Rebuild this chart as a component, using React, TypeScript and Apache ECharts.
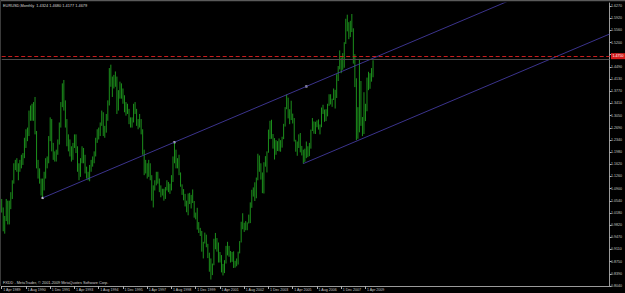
import React, { useEffect, useRef } from "react";
import * as echarts from "echarts";

// Month index 0 = Apr 1989 ... 245 = Sep 2009 (monthly EURUSD bars)
const xTickLabels = [
  "1 Apr 1989", "1 Aug 1990", "1 Dec 1991", "1 Apr 1993", "1 Aug 1994", "1 Dec 1995",
  "1 Apr 1997", "1 Aug 1998", "1 Dec 1999", "1 Apr 2001", "1 Aug 2002", "1 Dec 2003",
  "1 Apr 2005", "1 Aug 2006", "1 Dec 2007", "1 Apr 2009",
];
const yTickLabels = [
  "0.8040", "0.8390", "0.8750", "0.9110", "0.9470", "0.9820", "1.0180", "1.0540",
  "1.0900", "1.1260", "1.1620", "1.1980", "1.2340", "1.2690", "1.3050", "1.3410",
  "1.3770", "1.4130", "1.4490", "1.4850", "1.5200", "1.5560", "1.5920", "1.6270",
];

const opens = [
  1.045,1.030,0.985,1.005,1.050,0.995,1.050,1.070,1.110,
  1.160,1.165,1.160,1.150,1.165,1.175,1.185,1.235,1.255,1.250,1.310,1.330,
  1.305,1.330,1.255,1.160,1.135,1.115,1.080,1.110,1.125,1.175,1.170,1.240,
  1.290,1.210,1.185,1.180,1.195,1.225,1.280,1.335,1.395,1.345,1.290,1.225,
  1.210,1.200,1.180,1.220,1.240,1.205,1.150,1.130,1.170,1.205,1.185,1.145,
  1.130,1.125,1.150,1.165,1.175,1.190,1.235,1.255,1.260,1.280,1.310,1.250,
  1.265,1.300,1.345,1.410,1.410,1.395,1.415,1.415,1.330,1.370,1.395,1.380,
  1.360,1.320,1.330,1.320,1.285,1.280,1.290,1.330,1.320,1.280,1.275,1.290,
  1.260,1.200,1.150,1.160,1.130,1.150,1.125,1.060,1.090,1.110,1.130,1.110,
  1.090,1.075,1.080,1.065,1.090,1.105,1.090,1.095,1.115,1.175,1.200,1.160,
  1.170,1.136,1.100,1.076,1.058,1.042,1.033,1.070,1.061,1.068,1.052,1.009,
  1.007,0.972,0.966,0.957,0.912,0.933,0.954,0.925,0.888,0.884,0.846,0.870,
  0.939,0.935,0.921,0.880,0.886,0.846,0.848,0.877,0.912,0.911,0.903,0.890,
  0.890,0.859,0.869,0.872,0.901,0.933,0.991,0.978,0.982,0.987,0.989,0.993,
  1.049,1.073,1.078,1.091,1.116,1.180,1.149,1.124,1.097,1.165,1.159,1.199,
  1.260,1.248,1.246,1.230,1.197,1.220,1.218,1.203,1.217,1.243,1.276,1.327,
  1.356,1.304,1.325,1.296,1.287,1.230,1.210,1.212,1.234,1.203,1.199,1.179,
  1.185,1.215,1.192,1.212,1.262,1.281,1.279,1.277,1.281,1.268,1.276,1.325,
  1.320,1.300,1.323,1.335,1.365,1.344,1.353,1.368,1.364,1.427,1.448,1.464,
  1.459,1.484,1.518,1.579,1.559,1.554,1.576,1.561,1.466,1.408,1.274,1.269,
  1.397,1.280,1.266,1.325,1.323,1.416,1.403,1.412,1.432,
];
const highs = [
  1.060,1.035,1.010,1.060,1.055,1.055,1.080,1.115,1.165,
  1.175,1.180,1.165,1.175,1.190,1.195,1.240,1.265,1.270,1.320,1.335,1.340,
  1.345,1.360,1.260,1.175,1.150,1.120,1.120,1.140,1.180,1.185,1.245,1.300,
  1.295,1.225,1.200,1.205,1.235,1.285,1.345,1.400,1.410,1.350,1.295,1.250,
  1.235,1.215,1.225,1.250,1.250,1.215,1.165,1.180,1.215,1.210,1.190,1.155,
  1.140,1.160,1.175,1.185,1.200,1.240,1.265,1.270,1.285,1.320,1.315,1.275,
  1.310,1.350,1.445,1.455,1.420,1.425,1.435,1.420,1.380,1.405,1.400,1.385,
  1.365,1.345,1.340,1.325,1.300,1.300,1.340,1.345,1.325,1.295,1.310,1.295,
  1.265,1.205,1.175,1.165,1.175,1.165,1.130,1.100,1.115,1.140,1.140,1.120,
  1.100,1.090,1.090,1.095,1.115,1.110,1.105,1.130,1.185,1.227,1.205,1.180,
  1.190,1.138,1.103,1.089,1.075,1.055,1.076,1.078,1.072,1.088,1.054,1.020,
  1.034,0.992,0.975,0.966,0.934,0.961,0.955,0.928,0.902,0.885,0.870,0.943,
  0.960,0.945,0.932,0.904,0.895,0.869,0.880,0.922,0.934,0.922,0.907,0.904,
  0.906,0.878,0.885,0.905,0.936,0.993,1.018,0.990,0.995,0.991,1.014,1.050,
  1.087,1.094,1.109,1.123,1.193,1.188,1.165,1.138,1.168,1.186,1.200,1.264,
  1.290,1.293,1.251,1.239,1.233,1.230,1.238,1.233,1.243,1.281,1.330,1.367,
  1.358,1.324,1.349,1.311,1.298,1.234,1.229,1.250,1.254,1.216,1.205,1.208,
  1.229,1.215,1.225,1.264,1.298,1.288,1.287,1.291,1.294,1.279,1.329,1.337,
  1.323,1.324,1.340,1.368,1.368,1.355,1.385,1.381,1.427,1.451,1.497,1.476,
  1.489,1.521,1.590,1.602,1.580,1.584,1.604,1.562,1.486,1.415,1.330,1.472,
  1.407,1.301,1.374,1.340,1.417,1.434,1.430,1.445,1.468,
];
const lows = [
  1.020,0.965,0.958,0.995,0.985,0.985,1.030,1.060,1.105,
  1.145,1.140,1.115,1.140,1.150,1.160,1.180,1.210,1.230,1.245,1.290,1.290,
  1.290,1.250,1.150,1.120,1.105,1.070,1.063,1.085,1.120,1.150,1.165,1.230,
  1.200,1.175,1.170,1.170,1.190,1.220,1.270,1.330,1.320,1.270,1.215,1.200,
  1.185,1.170,1.175,1.210,1.195,1.140,1.115,1.125,1.165,1.165,1.135,1.120,
  1.115,1.112,1.140,1.155,1.165,1.185,1.225,1.235,1.245,1.275,1.245,1.240,
  1.255,1.290,1.335,1.390,1.360,1.385,1.390,1.310,1.320,1.355,1.355,1.340,
  1.315,1.305,1.310,1.280,1.270,1.270,1.285,1.310,1.275,1.265,1.270,1.250,
  1.190,1.130,1.135,1.120,1.125,1.115,1.055,1.035,1.085,1.100,1.105,1.080,
  1.065,1.070,1.055,1.060,1.085,1.080,1.075,1.085,1.110,1.165,1.150,1.150,
  1.130,1.096,1.072,1.056,1.038,1.021,1.012,1.045,1.032,1.048,1.005,1.000,
  0.970,0.960,0.951,0.905,0.885,0.929,0.918,0.886,0.846,0.823,0.836,0.865,
  0.912,0.905,0.873,0.873,0.844,0.835,0.842,0.870,0.894,0.890,0.873,0.875,
  0.857,0.858,0.862,0.867,0.900,0.932,0.971,0.963,0.968,0.968,0.988,0.989,
  1.034,1.067,1.054,1.062,1.115,1.140,1.117,1.077,1.076,1.155,1.138,1.196,
  1.236,1.237,1.208,1.176,1.190,1.201,1.200,1.199,1.211,1.236,1.273,1.324,
  1.297,1.280,1.292,1.282,1.229,1.199,1.187,1.210,1.197,1.188,1.164,1.169,
  1.180,1.183,1.186,1.208,1.260,1.252,1.251,1.271,1.264,1.250,1.271,1.310,
  1.287,1.289,1.303,1.334,1.338,1.331,1.351,1.326,1.357,1.407,1.441,1.430,
  1.440,1.446,1.516,1.553,1.530,1.536,1.551,1.458,1.389,1.233,1.237,1.256,
  1.275,1.245,1.251,1.289,1.318,1.380,1.384,1.405,1.418,
];
const closes = [
  1.030,0.985,1.005,1.050,0.995,1.050,1.070,1.110,1.160,
  1.165,1.160,1.150,1.165,1.175,1.185,1.235,1.255,1.250,1.310,1.330,1.305,
  1.330,1.255,1.160,1.135,1.115,1.080,1.110,1.125,1.175,1.170,1.240,1.290,
  1.210,1.185,1.180,1.195,1.225,1.280,1.335,1.395,1.345,1.290,1.225,1.210,
  1.200,1.180,1.220,1.240,1.205,1.150,1.130,1.170,1.205,1.185,1.145,1.130,
  1.125,1.150,1.165,1.175,1.190,1.235,1.255,1.260,1.280,1.310,1.250,1.265,
  1.300,1.345,1.410,1.410,1.395,1.415,1.415,1.330,1.370,1.395,1.380,1.360,
  1.320,1.330,1.320,1.285,1.280,1.290,1.330,1.320,1.280,1.275,1.290,1.260,
  1.200,1.150,1.160,1.130,1.150,1.125,1.060,1.090,1.110,1.130,1.110,1.090,
  1.075,1.080,1.065,1.090,1.105,1.090,1.095,1.115,1.175,1.200,1.160,1.170,
  1.136,1.100,1.076,1.058,1.042,1.033,1.070,1.061,1.068,1.052,1.009,1.007,
  0.972,0.966,0.957,0.912,0.933,0.954,0.925,0.888,0.884,0.846,0.870,0.939,
  0.935,0.921,0.880,0.886,0.846,0.848,0.877,0.912,0.911,0.903,0.890,0.890,
  0.859,0.869,0.872,0.901,0.933,0.991,0.978,0.982,0.987,0.989,0.993,1.049,
  1.073,1.078,1.091,1.116,1.180,1.149,1.124,1.097,1.165,1.159,1.199,1.260,
  1.248,1.246,1.230,1.197,1.220,1.218,1.203,1.217,1.243,1.276,1.327,1.356,
  1.304,1.325,1.296,1.287,1.230,1.210,1.212,1.234,1.203,1.199,1.179,1.185,
  1.215,1.192,1.212,1.262,1.281,1.279,1.277,1.281,1.268,1.276,1.325,1.320,
  1.300,1.323,1.335,1.365,1.344,1.353,1.368,1.364,1.427,1.448,1.464,1.459,
  1.484,1.518,1.579,1.559,1.554,1.576,1.561,1.466,1.408,1.274,1.269,1.397,
  1.280,1.266,1.325,1.323,1.416,1.403,1.412,1.433,1.468,
];

// Trend lines [monthIndex, price]
const upperTrend = [[27, 1.063], [401, 1.768]];
const upperTrendDots = [[27, 1.063], [114, 1.227], [201, 1.391]];
const lowerTrend = [[199, 1.164], [401, 1.545]];
const hLinePrice = 1.4761;
const bidPrice = 1.4679;

const titleText = "EURUSD,Monthly  1.4324 1.4680 1.4177 1.4679";
const footerText = "FXDD - MetaTrader, \u00a9 2001-2009 MetaQuotes Software Corp.";

const N_SLOTS = 402;
const PRICE_MIN = 0.804;
const PRICE_MAX = 1.6364;
const TICK_STEP = 0.0358;
const FONT = "Liberation Sans, Arial, sans-serif";

export default function App() {
  const ref = useRef<HTMLDivElement>(null);
  useEffect(() => {
    if (!ref.current) return;
    const chart = echarts.init(ref.current, undefined, { renderer: "svg" });
    const bars = opens.map((o, i) => [i, o, highs[i], lows[i], closes[i]]);
    const slots = Array.from({ length: N_SLOTS }, (_, i) => String(i));
    const showIdx = (i: number) => i % 16 === 0 && i / 16 < xTickLabels.length;
    chart.setOption({
      animation: false,
      backgroundColor: "#000000",
      grid: { left: 1.7, right: 15.5, top: 3, bottom: 7, containLabel: false },
      xAxis: [
        { type: "value", min: 0, max: N_SLOTS - 1, show: false },
        {
          type: "category",
          position: "bottom",
          data: slots,
          boundaryGap: false,
          axisLine: { show: true, lineStyle: { color: "#9a9a9a", width: 1 } },
          axisTick: {
            show: true,
            length: 3,
            interval: (i: number) => showIdx(i),
            lineStyle: { color: "#b0b0b0" },
          },
          axisLabel: {
            interval: (i: number) => showIdx(i),
            formatter: (_v: string, i: number) => (showIdx(i) ? xTickLabels[i / 16] : ""),
            color: "#c8c8c8",
            fontSize: 3.6,
            fontFamily: FONT,
            align: "left",
            margin: 1.5,
            padding: [0, 0, 0, 1.5],
          },
          splitLine: { show: false },
        },
      ],
      yAxis: [
        { type: "value", min: PRICE_MIN, max: PRICE_MAX, show: false, position: "right" },
        {
          type: "value",
          position: "right",
          min: 0,
          max: (PRICE_MAX - PRICE_MIN) / TICK_STEP,
          interval: 1,
          axisLine: { show: true, lineStyle: { color: "#9a9a9a", width: 1 } },
          axisTick: { show: true, length: 2, inside: false, lineStyle: { color: "#b0b0b0" } },
          axisLabel: {
            formatter: (v: number) => (Number.isInteger(v) && yTickLabels[v] ? yTickLabels[v] : ""),
            color: "#c8c8c8",
            fontSize: 3.6,
            fontFamily: FONT,
            margin: 1.5,
            showMaxLabel: false,
          },
          splitLine: { show: false },
        },
      ],
      graphic: [
        { type: "rect", shape: { x: 0, y: 0, width: 625, height: 1.2 }, style: { fill: "#5a5a5a" } },
        { type: "rect", shape: { x: 0, y: 0, width: 1, height: 286 }, style: { fill: "#3a3a3a" } },
        {
          type: "text",
          left: 3,
          top: 3,
          style: { text: titleText, fill: "#d8d8d8", fontSize: 3.9, fontFamily: FONT },
        },
        {
          type: "text",
          left: 3,
          top: 281,
          style: { text: footerText, fill: "#d0d0d0", fontSize: 3.8, fontFamily: FONT },
        },
      ],
      series: [
        {
          type: "custom",
          xAxisIndex: 0,
          yAxisIndex: 0,
          data: bars,
          encode: { x: 0, y: [2, 3] },
          clip: true,
          renderItem: (_p: any, api: any) => {
            const x = api.value(0);
            const hi = api.coord([x, api.value(2)]);
            const lo = api.coord([x, api.value(3)]);
            return {
              type: "line",
              shape: { x1: hi[0], y1: hi[1], x2: lo[0], y2: lo[1] },
              style: { stroke: "#1f9f1f", lineWidth: 0.9 },
            };
          },
        },
        {
          type: "line",
          xAxisIndex: 0,
          yAxisIndex: 0,
          data: upperTrend,
          symbol: "none",
          clip: true,
          lineStyle: { color: "#4a40b0", width: 0.8 },
          markLine: {
            silent: true,
            symbol: ["none", "none"],
            data: [
              {
                yAxis: bidPrice,
                lineStyle: { color: "#4c4c4c", type: "solid", width: 1 },
                label: { show: false },
              },
              {
                yAxis: hLinePrice,
                lineStyle: { color: "#c81e1e", type: [4, 2.5], width: 1 },
                label: {
                  show: true,
                  position: "end",
                  distance: 1.5,
                  formatter: "1.4750",
                  color: "#ffffff",
                  backgroundColor: "#d41c1c",
                  fontSize: 3.6,
                  fontFamily: FONT,
                  padding: [1, 1.5, 1, 1.5],
                },
              },
            ],
          },
        },
        {
          type: "line",
          xAxisIndex: 0,
          yAxisIndex: 0,
          data: lowerTrend,
          symbol: "none",
          clip: true,
          lineStyle: { color: "#4a40b0", width: 0.8 },
        },
        {
          type: "scatter",
          xAxisIndex: 0,
          yAxisIndex: 0,
          data: upperTrendDots,
          symbol: "rect",
          symbolSize: 2.2,
          itemStyle: { color: "#ffffff" },
        },
      ],
    });
    return () => chart.dispose();
  }, []);
  return (
    <div
      ref={ref}
      style={{ position: "fixed", left: 0, top: 0, width: 625, height: 293, background: "#000" }}
    />
  );
}
